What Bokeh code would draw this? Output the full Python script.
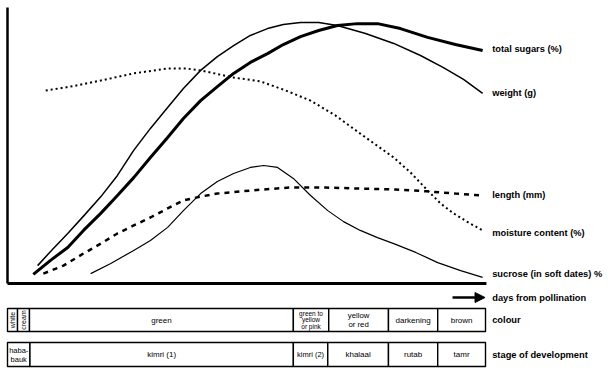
import math
from bokeh.plotting import figure
from bokeh.models import Range1d, Arrow, NormalHead, ColumnDataSource
from bokeh.core.properties import value
from bokeh.embed import file_html
from bokeh.resources import INLINE

# ---- data (relative time 0-100 from pollination, relative level 0-100) ----
weight_x = [6.3, 9.4, 12.6, 15.9, 19.5, 23.0, 26.4, 29.9, 33.5, 36.8, 40.4, 43.9, 47.3,
            50.8, 54.4, 57.7, 61.3, 65.1, 69.0, 74.9, 80.8, 86.4, 91.2, 95.4, 99.4]
weight_y = [6.5, 12.4, 18.2, 24.5, 31.5, 39.3, 48.4, 56.4, 64.0, 70.9, 77.5, 82.5, 86.5,
            90.2, 92.7, 94.2, 94.9, 94.9, 93.8, 90.9, 87.3, 82.9, 78.5, 74.2, 69.1]

sugars_x = [5.4, 9.0, 12.6, 15.9, 19.5, 23.0, 26.4, 29.9, 33.5, 36.8, 40.4, 43.9, 47.3,
            50.8, 54.4, 57.7, 61.3, 65.1, 69.0, 73.2, 77.4, 82.2, 87.9, 93.7, 99.4]
sugars_y = [3.3, 8.4, 13.1, 19.3, 25.5, 32.0, 38.5, 45.8, 53.1, 60.0, 66.5, 71.6, 76.4,
            80.4, 83.6, 86.9, 89.8, 92.0, 93.8, 94.5, 94.5, 92.7, 89.5, 86.9, 84.7]

moisture_x = [8.0, 13.2, 19.5, 26.4, 33.5, 37.2, 40.4, 47.3, 52.9, 58.2, 63.4, 68.6, 73.8,
              80.8, 84.3, 87.9, 90.6, 93.3, 96.4, 99.4]
moisture_y = [70.2, 71.6, 73.8, 76.4, 78.2, 78.2, 77.5, 74.9, 73.5, 70.2, 66.5, 61.1, 54.5,
              45.8, 40.4, 33.8, 29.1, 25.5, 22.2, 19.3]

length_x = [7.5, 11.7, 15.9, 19.5, 23.0, 26.4, 29.9, 33.5, 36.8, 40.4, 43.9, 50.8, 59.2,
            66.5, 73.8, 81.2, 87.9, 93.7, 99.4]
length_y = [3.6, 6.5, 10.9, 14.5, 18.2, 21.1, 24.0, 27.3, 30.2, 31.6, 32.7, 33.8, 34.9,
            34.9, 34.5, 34.2, 33.5, 32.7, 32.0]

sucrose_x = [17.4, 21.6, 26.4, 29.9, 33.5, 36.8, 40.4, 43.9, 47.3, 50.8, 53.6, 56.5, 59.8,
             63.4, 67.0, 70.3, 73.8, 77.4, 80.8, 85.4, 90.0, 94.8, 99.4]
sucrose_y = [3.6, 7.3, 12.0, 15.6, 20.4, 26.5, 32.7, 37.1, 40.0, 42.2, 42.9, 42.2, 38.2,
             32.0, 26.5, 22.5, 19.3, 16.7, 14.5, 11.3, 7.6, 4.7, 2.2]

series_labels = ["total sugars (%)", "weight (g)", "length (mm)",
                 "moisture content (%)", "sucrose (in soft dates) %"]
series_label_y = [85.4, 69.4, 32.0, 18.5, 3.3]

colour_names = ["white", "cream", "green", "green to\nyellow\nor pink",
                "yellow\nor red", "darkening", "brown"]
colour_edges = [0.0, 2.1, 4.6, 59.8, 67.2, 79.7, 90.0, 100.0]

stage_names = ["haba-\nbauk", "kimri (1)", "kimri (2)", "khalaal", "rutab", "tamr"]
stage_edges = [0.0, 4.7, 59.8, 67.0, 79.7, 90.0, 100.0]

x_title = "days from pollination"
row_titles = ["colour", "stage of development"]

# ---- figure ----
W, H = 608, 373
p = figure(width=W, height=H, output_backend="svg", toolbar_location=None,
           x_range=Range1d(-1.464, 125.73), y_range=Range1d(-32.73, 102.91),
           min_border=0, min_border_left=0, min_border_right=0,
           min_border_top=0, min_border_bottom=0)
p.axis.visible = False
p.grid.visible = False
p.outline_line_color = None
p.background_fill_color = "white"
p.border_fill_color = "white"

# axes lines
p.line([0, 0], [0, 100.4], line_color="black", line_width=2.5)
p.line([0, 100.2], [0, 0], line_color="black", line_width=2.8)

# curves
p.line(sugars_x, sugars_y, line_color="black", line_width=3.0, line_join="round")
p.line(weight_x, weight_y, line_color="black", line_width=1.5, line_join="round")
p.line(moisture_x, moisture_y, line_color="black", line_width=2.0, line_dash="2 3")
p.line(length_x, length_y, line_color="black", line_width=2.5, line_dash="5 5")
p.line(sucrose_x, sucrose_y, line_color="black", line_width=1.2, line_join="round")

FONT = value("Liberation Sans")
LABEL_X = 101.4

p.text(x=[LABEL_X] * len(series_labels), y=series_label_y, text=series_labels,
       text_font=FONT, text_font_style="bold", text_font_size="9.3px",
       text_align="left", text_baseline="middle", text_color="black")

# arrow for time axis
p.add_layout(Arrow(end=NormalHead(size=10, fill_color="black", line_color="black"),
                   x_start=93.1, y_start=-5.1, x_end=99.9, y_end=-5.1,
                   line_width=2.5, line_color="black"))
p.text(x=[LABEL_X], y=[-5.1], text=[x_title], text_font=FONT,
       text_font_style="bold", text_font_size="9.3px", text_color="black",
       text_align="left", text_baseline="middle")

# colour and stage rows
c_top, c_bot = -9.1, -17.45
s_top, s_bot = -21.45, -30.2
p.quad(left=colour_edges[:-1], right=colour_edges[1:],
       top=[c_top] * len(colour_names), bottom=[c_bot] * len(colour_names),
       fill_color="white", line_color="black", line_width=1.4)
p.quad(left=stage_edges[:-1], right=stage_edges[1:],
       top=[s_top] * len(stage_names), bottom=[s_bot] * len(stage_names),
       fill_color="white", line_color="black", line_width=1.4)

c_mid = [(a + b) / 2 for a, b in zip(colour_edges[:-1], colour_edges[1:])]
s_mid = [(a + b) / 2 for a, b in zip(stage_edges[:-1], stage_edges[1:])]
c_y = (c_top + c_bot) / 2
s_y = (s_top + s_bot) / 2

c_angle = [math.pi / 2, math.pi / 2, 0, 0, 0, 0, 0]
c_size = ["7px", "7px", "8px", "6.5px", "7.8px", "8px", "8px"]
csrc = ColumnDataSource(dict(x=c_mid, y=[c_y] * len(colour_names), text=colour_names,
                             angle=c_angle, size=c_size))
p.text(x="x", y="y", text="text", angle="angle", text_font_size="size", source=csrc,
       text_font=FONT, text_align="center", text_baseline="middle",
       text_line_height=0.95, text_color="black")

s_size = ["7.5px", "8px", "7.5px", "8px", "8px", "8px"]
ssrc = ColumnDataSource(dict(x=s_mid, y=[s_y] * len(stage_names), text=stage_names,
                             size=s_size))
p.text(x="x", y="y", text="text", text_font_size="size", source=ssrc,
       text_font=FONT, text_align="center", text_baseline="middle",
       text_line_height=1.0, text_color="black")

p.text(x=[LABEL_X, LABEL_X], y=[c_y, s_y], text=row_titles, text_font=FONT,
       text_font_style="bold", text_font_size="9.3px", text_color="black",
       text_align="left", text_baseline="middle")

open("out.html", "w").write(file_html(p, INLINE))
